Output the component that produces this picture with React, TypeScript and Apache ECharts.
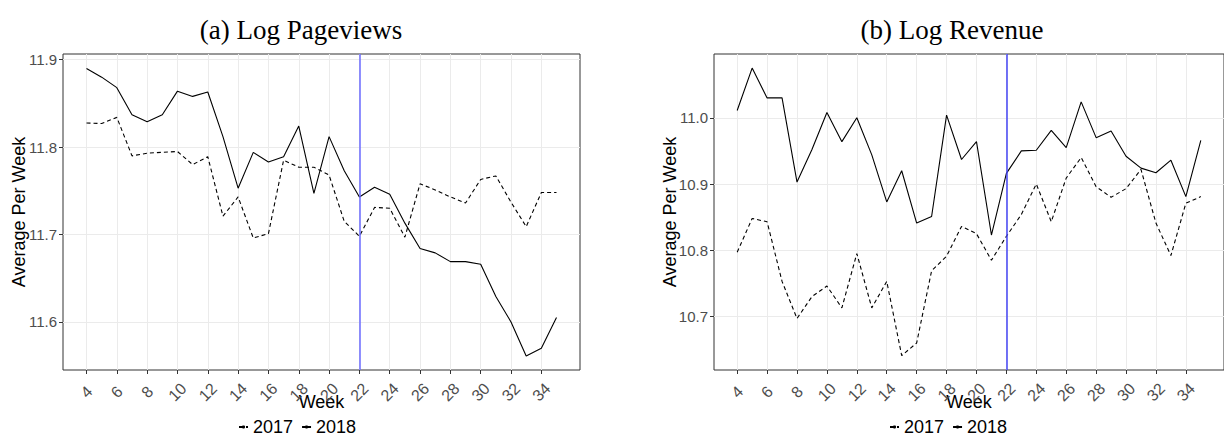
import React, { useEffect, useRef } from "react";
import * as echarts from "echarts";

const weeks = [4, 5, 6, 7, 8, 9, 10, 11, 12, 13, 14, 15, 16, 17, 18, 19, 20, 21, 22, 23, 24, 25, 26, 27, 28, 29, 30, 31, 32, 33, 34, 35];

const pageviews2017 = [11.8275, 11.827, 11.834, 11.79, 11.793, 11.794, 11.795, 11.78, 11.789, 11.721, 11.743, 11.696, 11.701, 11.785, 11.777, 11.777, 11.768, 11.715, 11.698, 11.731, 11.73, 11.697, 11.758, 11.751, 11.743, 11.736, 11.763, 11.767, 11.737, 11.709, 11.748, 11.748];
const pageviews2018 = [11.89, 11.88, 11.868, 11.837, 11.829, 11.837, 11.864, 11.858, 11.863, 11.812, 11.753, 11.794, 11.783, 11.789, 11.824, 11.747, 11.812, 11.773, 11.743, 11.754, 11.746, 11.713, 11.684, 11.679, 11.669, 11.669, 11.666, 11.629, 11.6, 11.561, 11.57, 11.605];

const revenue2017 = [10.797, 10.848, 10.843, 10.753, 10.697, 10.73, 10.746, 10.713, 10.795, 10.713, 10.753, 10.641, 10.66, 10.769, 10.791, 10.836, 10.825, 10.785, 10.821, 10.854, 10.9, 10.843, 10.909, 10.94, 10.896, 10.88, 10.893, 10.922, 10.841, 10.792, 10.871, 10.881];
const revenue2018 = [11.011, 11.075, 11.03, 11.03, 10.903, 10.952, 11.008, 10.964, 11.0, 10.944, 10.873, 10.92, 10.841, 10.851, 11.004, 10.937, 10.964, 10.823, 10.916, 10.95, 10.951, 10.981, 10.955, 11.024, 10.97, 10.98, 10.942, 10.924, 10.917, 10.936, 10.881, 10.966];

const xTicks = [4, 6, 8, 10, 12, 14, 16, 18, 20, 22, 24, 26, 28, 30, 32, 34];
const yTicksPageviews = [11.6, 11.7, 11.8, 11.9];
const yTicksRevenue = [10.7, 10.8, 10.9, 11.0];
const treatmentWeek = 22;
const seriesNames = ["2017", "2018"];
const panelTitles = ["(a) Log Pageviews", "(b) Log Revenue"];

const SANS = "'Liberation Sans', Arial, Helvetica, sans-serif";
const SERIF = "'Liberation Serif', 'Times New Roman', serif";

function pairs(ys: number[]) {
  return weeks.map((w, i) => [w, ys[i]]);
}

function xAxisFor(gridIndex: number) {
  return {
    type: "value",
    gridIndex,
    min: 2.45,
    max: 36.55,
    axisLine: { show: false },
    axisTick: { show: true, length: 4, lineStyle: { color: "#333333", width: 1 }, customValues: xTicks },
    axisLabel: {
      customValues: xTicks,
      rotate: 45,
      align: "center",
      verticalAlign: "middle",
      margin: 22,
      color: "#4D4D4D",
      fontSize: 16,
      fontFamily: SANS,
    },
    splitLine: { show: true, lineStyle: { color: "#EBEBEB", width: 1 } },
    name: "Week",
    nameLocation: "middle",
    nameGap: 23,
    nameMoveOverlap: false,
    nameTextStyle: { fontSize: 18, color: "#000000", fontFamily: SANS, verticalAlign: "top" },
  };
}

function yAxisFor(gridIndex: number, min: number, max: number, ticks: number[]) {
  return {
    type: "value",
    gridIndex,
    min,
    max,
    axisLine: { show: false },
    axisTick: { show: true, length: 4, lineStyle: { color: "#333333", width: 1 }, customValues: ticks },
    axisLabel: {
      customValues: ticks,
      formatter: (v: number) => v.toFixed(1),
      margin: 6,
      color: "#4D4D4D",
      fontSize: 15,
      fontFamily: SANS,
    },
    splitLine: { show: true, lineStyle: { color: "#EBEBEB", width: 1 } },
    name: "Average Per Week",
    nameLocation: "middle",
    nameGap: 35,
    nameMoveOverlap: false,
    nameTextStyle: { fontSize: 18, color: "#000000", fontFamily: SANS },
  };
}

function lineSeries(name: string, idx: number, ys: number[], dashed: boolean, vlineColor?: string) {
  const s: any = {
    name,
    type: "line",
    xAxisIndex: idx,
    yAxisIndex: idx,
    data: pairs(ys),
    showSymbol: false,
    symbol: "none",
    lineStyle: { color: "#000000", width: 1.1, type: dashed ? [4, 3] : "solid" },
    itemStyle: { color: "#000000" },
  };
  if (vlineColor) {
    s.markLine = {
      silent: true,
      symbol: "none",
      label: { show: false },
      lineStyle: { color: vlineColor, width: 1.5, type: "solid" },
      data: [{ xAxis: treatmentWeek }],
    };
  }
  return s;
}

function legendAt(left: number) {
  return {
    left,
    top: 413,
    orient: "horizontal",
    itemWidth: 9,
    itemHeight: 4,
    itemGap: 8,
    data: seriesNames,
    textStyle: { fontSize: 18, color: "#000000", fontFamily: SANS },
  };
}

export default function App() {
  const ref = useRef<HTMLDivElement>(null);
  useEffect(() => {
    if (!ref.current) return;
    const chart = echarts.init(ref.current, null, { renderer: "svg" });
    const option: any = {
      animation: false,
      backgroundColor: "#ffffff",
      textStyle: { fontFamily: SANS },
      graphic: [
        {
          type: "text",
          x: 301,
          y: 30,
          style: { text: panelTitles[0], font: `27px ${SERIF}`, fill: "#000000", align: "center", verticalAlign: "middle" },
        },
        {
          type: "text",
          x: 952,
          y: 30,
          style: { text: panelTitles[1], font: `27px ${SERIF}`, fill: "#000000", align: "center", verticalAlign: "middle" },
        },
      ],
      grid: [
        { left: 63, top: 54, width: 517, height: 316, show: true, borderColor: "#333333", borderWidth: 1, backgroundColor: "transparent" },
        { left: 714, top: 54, width: 517, height: 316, show: true, borderColor: "#333333", borderWidth: 1, backgroundColor: "transparent" },
      ],
      xAxis: [xAxisFor(0), xAxisFor(1)],
      yAxis: [
        yAxisFor(0, 11.545, 11.9065, yTicksPageviews),
        yAxisFor(1, 10.6192, 11.0963, yTicksRevenue),
      ],
      legend: [legendAt(233), legendAt(884)],
      series: [
        lineSeries(seriesNames[0], 0, pageviews2017, true),
        lineSeries(seriesNames[1], 0, pageviews2018, false, "#6B6BFF"),
        lineSeries(seriesNames[0], 1, revenue2017, true),
        lineSeries(seriesNames[1], 1, revenue2018, false, "#4545F5"),
      ],
    };
    chart.setOption(option);
    return () => chart.dispose();
  }, []);
  return <div ref={ref} style={{ position: "fixed", left: 0, top: 0, width: 1224, height: 436 }} />;
}
